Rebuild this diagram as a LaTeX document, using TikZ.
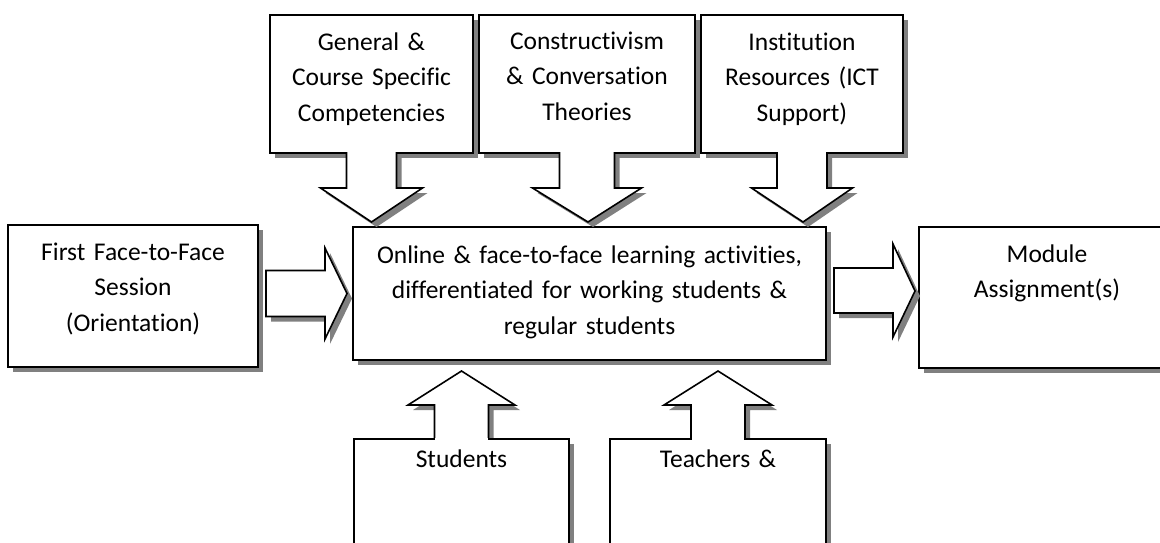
\documentclass[tikz,border=0pt]{standalone}
\usepackage{fontspec}
\setmainfont{Carlito}[Ligatures=NoCommon, WordSpace={1,0,0}]
\usetikzlibrary{shadows}
\definecolor{shadowgray}{gray}{0.5}

\begin{document}
\begin{tikzpicture}[x=1pt, y=-1pt,
    box/.style={draw, line width=1.6pt, fill=white, align=center,
      inner xsep=5pt, inner ysep=0pt, outer sep=0pt,
      font=\fontsize{25.5pt}{35.5pt}\selectfont,
      drop shadow={shadow xshift=5pt, shadow yshift=-5pt, fill=shadowgray, opacity=1}},
    blockarrow/.style={line width=1.6pt, fill=white, line join=miter,
      drop shadow={shadow xshift=5pt, shadow yshift=-5pt, fill=shadowgray, opacity=1}}]
  \useasboundingbox (0,0) rectangle (1160,542);
  \clip (0,0) rectangle (1160,542);

  % middle row
  \node[box, text width=463pt, text height=36pt, text depth=97pt] (main) at (589.5,293.5)
    {Online \& face-to-face learning activities,\\differentiated for working students \&\\regular students};
  \node[box, text width=240pt, text height=35pt, text depth=107pt] (first) at (133,296)
    {First Face-to-Face\\Session\\(Orientation)};
  \node[box, text width=246pt, text height=35pt, text depth=106pt] (module) at (1047,297.5)
    {Module\\Assignment(s)};
  \draw[blockarrow, shift={(main.west)}] (-87,-23) -- (-28,-23) -- (-28,-45.5) -- (-6,0)
    -- (-28,45.5) -- (-28,23) -- (-87,23) -- cycle;
  \draw[blockarrow, shift={(main.east)}] (8,-25.5) -- (67,-25.5) -- (67,-49.5) -- (89,-2.5)
    -- (67,43.5) -- (67,19.5) -- (8,19.5) -- cycle;

  % top callouts
  \node[box, text width=193pt, text height=35pt, text depth=103pt] (gen) at (371.5,84)
    {General \&\\Course Specific\\Competencies};
  \draw[blockarrow, shift={(gen.south)}] (-25,-0.8) -- (-25,35) -- (-51,35) -- (0,69)
    -- (51,35) -- (25,35) -- (25,-0.8);
  \node[box, text width=206pt, text height=34pt, text depth=104pt] (cons) at (587,84)
    {Constructivism\\\& Conversation\\Theories};
  \draw[blockarrow, shift={(cons.south)}] (-27.5,-0.8) -- (-27.5,35) -- (-54.5,35) -- (1,69)
    -- (54.5,35) -- (27.5,35) -- (27.5,-0.8);
  \node[box, text width=192pt, text height=35pt, text depth=103pt] (inst) at (802,84)
    {Institution\\Resources (ICT\\Support)};
  \draw[blockarrow, shift={(inst.south)}] (-25,-0.8) -- (-25,35) -- (-50.5,35) -- (1,69)
    -- (50.5,35) -- (25,35) -- (25,-0.8);

  % bottom callouts
  \coordinate (studtop) at (461.5,439);
  \coordinate (teachtop) at (718,439);
  \draw[blockarrow, shift={(studtop)}] (-27,0.8) -- (-27,-34) -- (-53.5,-34) -- (0,-68)
    -- (53.5,-34) -- (27,-34) -- (27,0.8);
  \draw[blockarrow, shift={(teachtop)}] (-27,0.8) -- (-27,-34) -- (-54,-34) -- (0,-68)
    -- (54,-34) -- (27,-34) -- (27,0.8);
  \node[box, anchor=north, text width=205pt, text height=28pt, text depth=112pt] (stud) at (studtop)
    {Students};
  \node[box, anchor=north, text width=206pt, text height=28pt, text depth=112pt] (teach) at (teachtop)
    {Teachers \&};
  \fill[white, shift={(stud.north)}] (-26.2,-1) rectangle (26.2,1);
  \fill[white, shift={(teach.north)}] (-26.2,-1) rectangle (26.2,1);
\end{tikzpicture}
\end{document}
